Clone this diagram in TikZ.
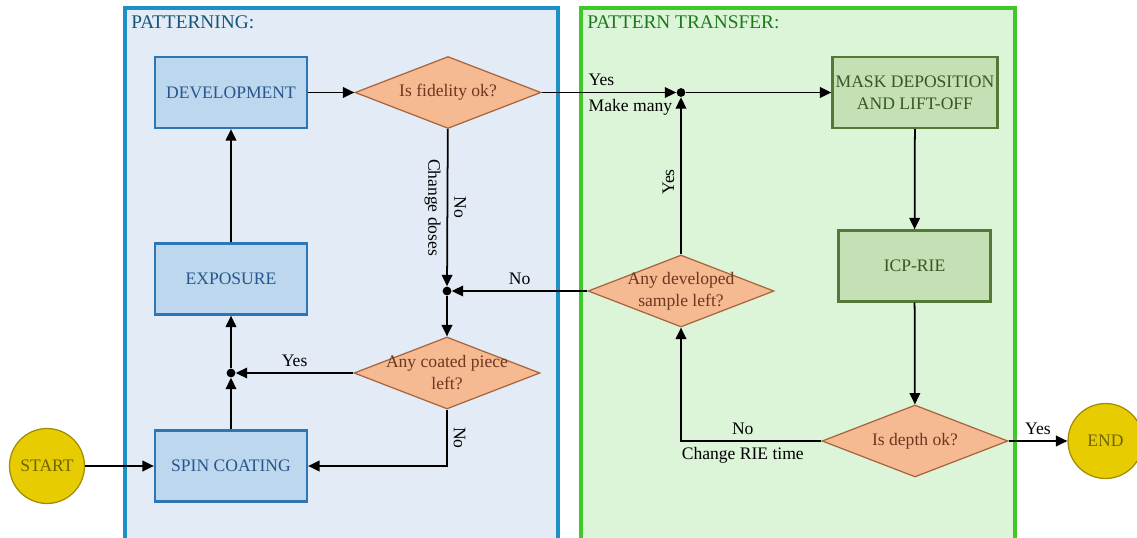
\documentclass[tikz,border=0pt]{standalone}
\usepackage{fontspec}
\setmainfont{Liberation Serif}
\usepackage{tikz}
\usetikzlibrary{positioning,arrows.meta,shapes.geometric}
\definecolor{frameblue}{RGB}{30,144,200}
\definecolor{patbg}{RGB}{227,235,246}
\definecolor{pattitle}{RGB}{20,85,120}
\definecolor{procfill}{RGB}{189,215,238}
\definecolor{procdraw}{RGB}{46,117,182}
\definecolor{proctext}{RGB}{40,85,140}
\definecolor{framegreen}{RGB}{64,200,40}
\definecolor{transbg}{RGB}{220,244,216}
\definecolor{transtitle}{RGB}{30,120,30}
\definecolor{etchfill}{RGB}{197,224,180}
\definecolor{etchdraw}{RGB}{84,120,53}
\definecolor{etchtext}{RGB}{56,87,35}
\definecolor{decfill}{RGB}{245,186,146}
\definecolor{decdraw}{RGB}{168,100,60}
\definecolor{dectext}{RGB}{110,55,30}
\definecolor{termfill}{RGB}{230,204,0}
\definecolor{termdraw}{RGB}{160,140,0}
\definecolor{termtext}{RGB}{110,100,0}

\begin{document}
\begin{tikzpicture}[x=0.02cm, y=-0.02cm, font=\fontsize{10}{12.5}\selectfont,
  stepbox/.style={draw=procdraw, fill=procfill, text=proctext, line width=1.3pt, minimum width=3.04cm, minimum height=1.42cm, align=center},
  etchbox/.style={draw=etchdraw, fill=etchfill, text=etchtext, line width=1.3pt, minimum height=1.42cm, align=center},
  query/.style={diamond, aspect=2.58, draw=decdraw, fill=decfill, text=dectext, line width=0.7pt, minimum width=3.72cm, minimum height=1.44cm, inner sep=-2pt, align=center},
  terminal/.style={circle, draw=termdraw, fill=termfill, text=termtext, line width=0.7pt, minimum size=1.5cm, inner sep=0pt},
  junction/.style={circle, fill=black, inner sep=0pt, minimum size=5pt},
  flow/.style={-{Triangle[length=6.5pt,width=6pt]}, line width=1pt}]
  \useasboundingbox (0,0) rectangle (1137,538);
  \draw[draw=frameblue, fill=patbg, line width=1.8pt] (125,8) rectangle (558,545);
  \draw[draw=framegreen, fill=transbg, line width=1.8pt] (581,8) rectangle (1015,545);
  \node[anchor=base west, text=pattitle, font=\fontsize{11}{13}\selectfont, inner sep=0pt] (pattit) at (131,28) {PATTERNING:};
  \node[anchor=base west, text=transtitle, font=\fontsize{11}{13}\selectfont, inner sep=0pt] (transtit) at (587,28) {PATTERN TRANSFER:};

  \node[terminal] (start) at (47,466) {START};
  \node[stepbox] (spin) at (231,466) {SPIN COATING};
  \node[stepbox] (expo) at (231,279) {EXPOSURE};
  \node[stepbox] (devel) at (231,92.5) {DEVELOPMENT};
  \node[query] (fidel) at (448,92.5) {Is fidelity ok?};
  \node[query] (coated) at (447,373) {Any coated piece\\left?};
  \node[query] (devleft) at (681,291) {Any developed\\sample left?};
  \node[etchbox, minimum width=3.3cm, inner sep=1pt] (mask) at (915,92.5) {MASK DEPOSITION\\AND LIFT-OFF};
  \node[etchbox, minimum width=3.04cm] (icp) at (914.5,266) {ICP-RIE};
  \node[query] (depth) at (915,441) {Is depth ok?};
  \node[terminal] (finish) at (1105.5,441) {END};
  \node[junction] (jdose) at (447,291) {};
  \node[junction] (jcoat) at (231,373) {};
  \node[junction] (jmany) at (681,92.5) {};

  \draw[flow] (start) -- (spin);
  \draw[flow] (spin) -- (jcoat);
  \draw[flow] (jcoat) -- (expo);
  \draw[flow] (expo) -- (devel);
  \draw[flow] (devel) -- (fidel);
  \draw[flow] (fidel) -- node[rotate=-90, anchor=south] {No} node[rotate=-90, anchor=north] {Change doses} (jdose);
  \draw[flow] (devleft) -- node[above] {No} (jdose);
  \draw[flow] (jdose) -- (coated);
  \draw[flow] (coated) -- node[above] {Yes} (jcoat);
  \draw[flow] (coated) |- node[pos=0.25, rotate=-90, anchor=south] {No} (spin);
  \draw[flow] (fidel) -- node[pos=0.3, anchor=south west] {Yes} node[pos=0.3, anchor=north west] {Make many} (jmany);
  \draw[flow] (devleft) -- node[pos=0.46, rotate=90, anchor=south] {Yes} (jmany);
  \draw[flow] (jmany) -- (mask);
  \draw[flow] (mask) -- (icp);
  \draw[flow] (icp) -- (depth);
  \draw[flow] (depth) -| node[pos=0.28, above] {No} node[pos=0.28, below] {Change RIE time} (devleft);
  \draw[flow] (depth) -- node[above] {Yes} (finish);
\end{tikzpicture}
\end{document}
